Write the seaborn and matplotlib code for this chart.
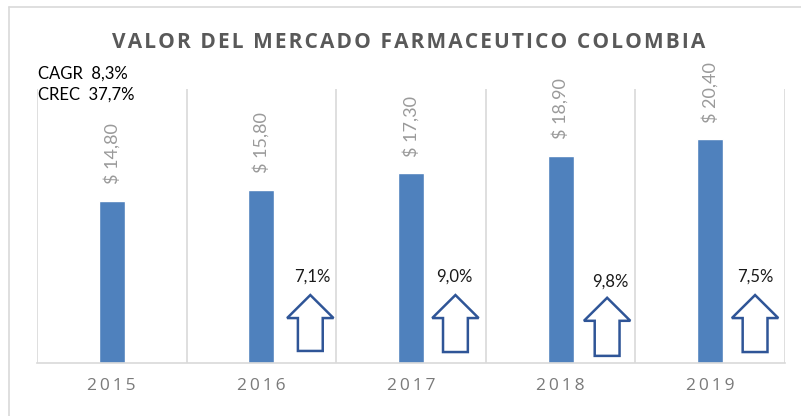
import matplotlib
matplotlib.use("Agg")
import matplotlib.pyplot as plt
import seaborn as sns
import pandas as pd
from matplotlib.patches import Polygon
from matplotlib.lines import Line2D

# ---- data ----
years = ["2015", "2016", "2017", "2018", "2019"]
values = [14.80, 15.80, 17.30, 18.90, 20.40]
value_labels = ["$ 14,80", "$ 15,80", "$ 17,30", "$ 18,90", "$ 20,40"]
growth_years = ["2016", "2017", "2018", "2019"]
growth_labels = ["7,1%", "9,0%", "9,8%", "7,5%"]
title = "VALOR DEL MERCADO FARMACEUTICO COLOMBIA"
cagr_text = "CAGR  8,3%"
crec_text = "CREC  37,7%"

# ---- layout (arrow placement, not data) ----
arrow_dx = [0.327, 0.297, 0.311, 0.300]
label_dx = [0.34, 0.29, 0.33, 0.30]
arrow_tip = [6.2, 6.2, 5.95, 6.2]
arrow_bottom = [1.1, 1.0, 0.65, 1.0]
label_y = [7.87, 7.87, 7.41, 7.87]

sns.set_theme(style="white")
plt.rcParams['font.family'] = ['Lato', 'DejaVu Sans']

W, H = 801, 416
fig = plt.figure(figsize=(W / 100, H / 100), dpi=100)
ax = fig.add_axes([37 / W, (H - 363) / H, (785 - 37) / W, (363 - 89) / H])

df = pd.DataFrame({"year": years, "value": values})
sns.barplot(data=df, x="year", y="value", color="#4F81BD", saturation=1,
            width=0.175, ax=ax)
ax.set_xlim(-0.5, len(years) - 0.5)
ax.set_ylim(0, 25)

for s in ["top", "right", "left"]:
    ax.spines[s].set_visible(False)
ax.spines["bottom"].set_color("#D9D9D9")
ax.spines["bottom"].set_linewidth(1.2)
for i in range(len(years) + 1):
    ax.axvline(i - 0.5, color="#D9D9D9", lw=1.2, zorder=0)

ax.set_yticks([])
ax.set_xlabel("")
ax.set_ylabel("")
spaced = ["\u2009".join(list(y)) for y in years]
ax.set_xticks(range(len(years)))
ax.set_xticklabels(spaced, color="#7A7A7A", fontsize=12.5,
                   family=['Open Sans', 'DejaVu Sans'])
ax.tick_params(axis="x", length=0, pad=11)

# value labels
for i, (v, lab) in enumerate(zip(values, value_labels)):
    ax.annotate(lab, (i, v), xytext=(0, 12), textcoords="offset points",
                rotation=90, ha="center", va="bottom", color="#9A9A9A",
                fontsize=13)

# growth arrows
hw = 0.155   # half head width (category units)
sw = 0.083   # half shaft width
for k, gy in enumerate(growth_years):
    c = years.index(gy) + arrow_dx[k]
    tip = arrow_tip[k]
    bot = arrow_bottom[k]
    base = tip - 2.1
    pts = [(c, tip), (c + hw, base), (c + sw, base), (c + sw, bot),
           (c - sw, bot), (c - sw, base), (c - hw, base)]
    ax.add_patch(Polygon(pts, closed=True, facecolor="white",
                         edgecolor="#2F5597", lw=1.8, zorder=3))
    ax.text(years.index(gy) + label_dx[k], label_y[k], growth_labels[k],
            ha="center", va="center", fontsize=12, color="#1A1A1A")

# title with letter spacing
spaced_title = "\u200a".join(list(title))
fig.text(409 / W, 1 - 43 / H, spaced_title, ha="center", va="center",
         fontsize=15, fontweight="bold", color="#595959",
         family=['Open Sans', 'DejaVu Sans'])

fig.text(38 / W, 1 - 74 / H, cagr_text, ha="left", va="center",
         fontsize=12, color="black")
fig.text(38 / W, 1 - 95 / H, crec_text, ha="left", va="center",
         fontsize=12, color="black")

# outer chart border (top and left only visible)
fig.add_artist(Line2D([9 / W, 1], [1 - 7 / H, 1 - 7 / H], color="#D9D9D9",
                      lw=1.2, transform=fig.transFigure))
fig.add_artist(Line2D([9 / W, 9 / W], [0, 1 - 7 / H], color="#D9D9D9",
                      lw=1.2, transform=fig.transFigure))

fig.savefig("out.png", dpi=100)
